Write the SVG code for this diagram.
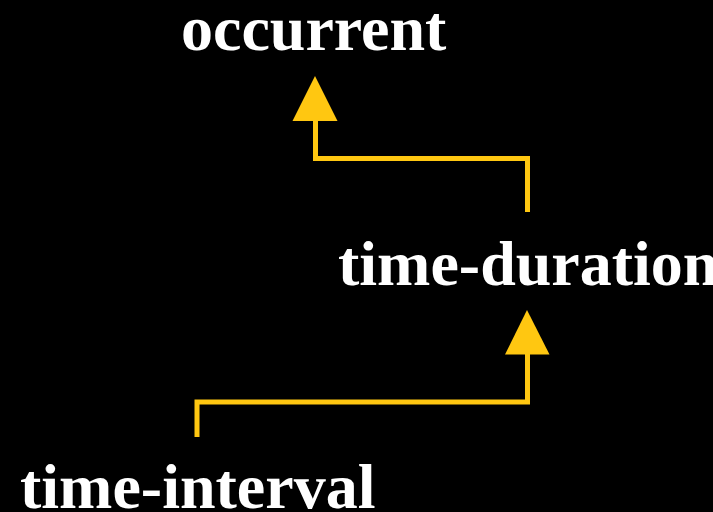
<svg xmlns="http://www.w3.org/2000/svg" width="713" height="512" viewBox="0 0 713 512">
<style>
.lbl{font-family:"Liberation Serif","Times New Roman",serif;font-weight:bold;font-size:64px;fill:#ffffff}
.edge{fill:none;stroke:#FFC711;stroke-width:5}
.head{fill:#FFC711}
</style>
<rect width="713" height="512" fill="#000000"/>
<g id="connectors">
<path class="edge" d="M527.5,212 V158.5 H315.5 V118"/>
<polygon class="head" points="315,76 292.5,121 337.5,121"/>
<path class="edge" d="M197,437 V402 H527.5 V352"/>
<polygon class="head" points="527,310 505,354.5 549.5,354.5"/>
</g>
<g id="occurrent"><text class="lbl" x="181" y="50">occurrent</text></g>
<g id="time-duration"><text class="lbl" x="338" y="285">time-duration</text></g>
<g id="time-interval"><text class="lbl" x="20" y="508">time-interval</text></g>
</svg>
